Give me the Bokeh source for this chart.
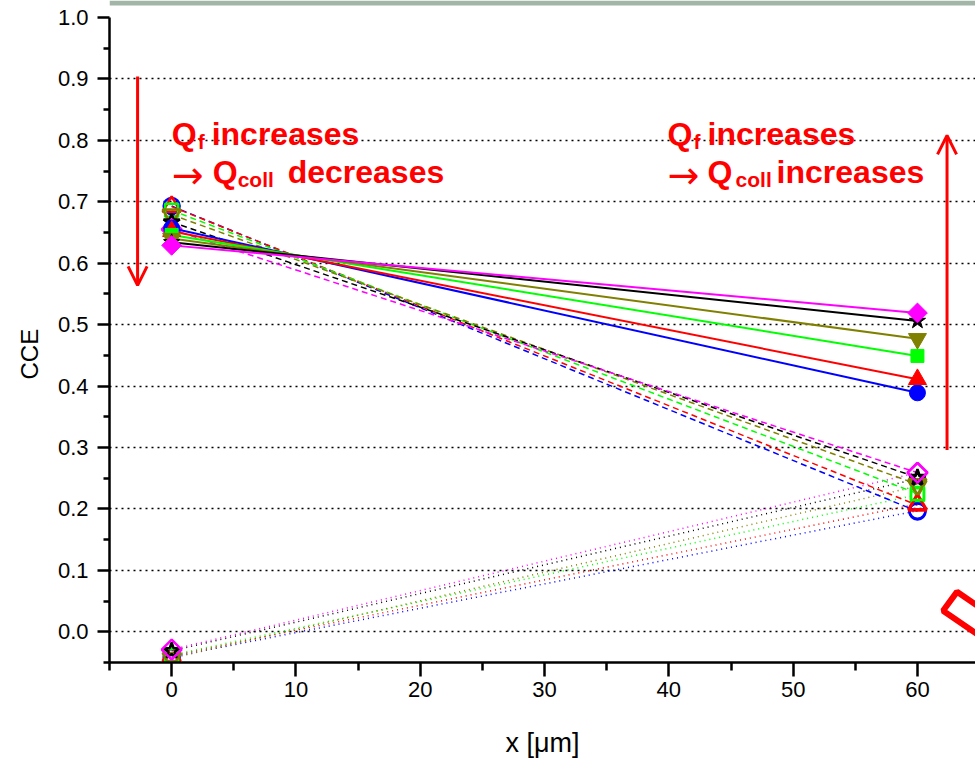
import math

from bokeh.plotting import figure
from bokeh.models import (Range1d, FixedTicker, PrintfTickFormatter, Label,
                          Arrow, OpenHead, BoxAnnotation, Title)
from bokeh.embed import file_html
from bokeh.resources import INLINE

# ---- data -------------------------------------------------------------
x_pos = [0, 60]  # x [um]

series_colors = ["#0000ff", "#ff0000", "#00ff00", "#808000", "#000000", "#ff00ff"]
series_markers = ["circle", "triangle", "square", "inverted_triangle", "star", "diamond"]

# solid lines, filled markers
cce_solid_0 = [0.657, 0.652, 0.646, 0.640, 0.634, 0.629]
cce_solid_60 = [0.389, 0.411, 0.449, 0.477, 0.506, 0.519]

# dashed lines, open markers
cce_dash_0 = [0.693, 0.692, 0.686, 0.679, 0.667, 0.655]
cce_dash_60 = [0.196, 0.206, 0.225, 0.240, 0.251, 0.259]

# dotted lines, open markers
cce_dot_0 = [-0.041, -0.039, -0.038, -0.043, -0.031, -0.029]
cce_dot_60 = [0.197, 0.208, 0.223, 0.237, 0.249, 0.259]

y_major = [0.0, 0.1, 0.2, 0.3, 0.4, 0.5, 0.6, 0.7, 0.8, 0.9, 1.0]
y_minor = [-0.05, 0.05, 0.15, 0.25, 0.35, 0.45, 0.55, 0.65, 0.75, 0.85, 0.95]
y_grid = [0.0, 0.1, 0.2, 0.3, 0.4, 0.5, 0.6, 0.7, 0.8, 0.9]
x_major = [0, 10, 20, 30, 40, 50, 60]
x_minor = [-5, 5, 15, 25, 35, 45, 55]

# annotation geometry (data units)
note_x = [0.0, 39.9]
note_y = [0.8095, 0.7485]
note_verbs = ["decreases", "increases"]
arrow_x = [-2.74, 62.38]
arrow_from = [0.904, 0.296]
arrow_to = [0.564, 0.808]
frame_box_x = [62.06, 63.18, 66.48, 65.35]
frame_box_y = [0.0341, 0.0650, 0.0195, -0.0114]

RED = "#ff0000"
FONT = "Liberation Sans"

# ---- figure -----------------------------------------------------------
p = figure(width=975, height=760, output_backend="svg", toolbar_location=None,
           x_range=Range1d(-5, 64.67), y_range=Range1d(-0.05, 1.0276),
           min_border_left=109, min_border_right=0, min_border_top=0,
           min_border_bottom=97)
p.outline_line_color = None
p.background_fill_color = "white"
p.border_fill_color = "white"

# header strip along the top
p.add_layout(BoxAnnotation(bottom=1.0195, fill_color="#a2b6a7", fill_alpha=1.0,
                           line_color=None, level="underlay"))

# axes
for ax in (p.xaxis[0], p.yaxis[0]):
    ax.axis_line_width = 2.5
    ax.axis_line_color = "black"
    ax.major_tick_line_width = 2.5
    ax.minor_tick_line_width = 2.5
    ax.major_tick_in = 0
    ax.minor_tick_in = 0
    ax.major_label_text_font = FONT
    ax.major_label_text_font_size = "22px"
    ax.major_label_text_color = "black"
    ax.axis_label_text_font = FONT
    ax.axis_label_text_font_style = "normal"
    ax.axis_label_text_color = "black"

p.xaxis.ticker = FixedTicker(ticks=x_major, minor_ticks=x_minor)
p.xaxis.formatter = PrintfTickFormatter(format="%d")
p.xaxis.major_tick_out = 14
p.xaxis.minor_tick_out = 8
p.xaxis.major_label_standoff = 5
p.xaxis.axis_label = "x [\u03bcm]"
p.xaxis.axis_label_text_font_size = "27px"
p.xaxis.axis_label_standoff = 28

p.yaxis.ticker = FixedTicker(ticks=y_major, minor_ticks=y_minor)
p.yaxis.formatter = PrintfTickFormatter(format="%.1f")
p.yaxis.bounds = (-0.05, 1.0)
p.yaxis.major_tick_out = 12
p.yaxis.minor_tick_out = 6
p.yaxis.major_label_standoff = 9

# y title, placed as a side title so it can sit below the frame centre
p.add_layout(Title(text="CCE", align="left", offset=283, standoff=20,
                   vertical_align="top",
                   text_font=FONT, text_font_size="24px", text_font_style="normal",
                   text_color="black"), "left")

p.xgrid.visible = False
p.ygrid.ticker = FixedTicker(ticks=y_grid)
p.ygrid.grid_line_color = "black"
p.ygrid.grid_line_width = 1.5
p.ygrid.grid_line_dash = "2 4"

# ---- series -----------------------------------------------------------
marker_size = {"circle": 16, "triangle": 18, "square": 13,
               "inverted_triangle": 18, "star": 17, "diamond": 14}


def draw_marker(xv, yv, marker, color, filled):
    kind, angle = (("square", math.pi / 4) if marker == "diamond" else (marker, 0.0))
    p.scatter(xv, yv, marker=kind, angle=angle, size=marker_size[marker],
              line_color=color, line_width=1 if filled else 2.5,
              fill_color=color if filled else None)


groups = [
    (cce_dot_0, cce_dot_60, dict(line_width=1.5, line_dash="1 4"), False),
    (cce_dash_0, cce_dash_60, dict(line_width=1.5, line_dash="6 4"), False),
    (cce_solid_0, cce_solid_60, dict(line_width=2, line_dash="solid"), True),
]

for y0s, y60s, style, filled in groups:
    for y0, y60, color in zip(y0s, y60s, series_colors):
        p.line(x_pos, [y0, y60], line_color=color, **style)
    for y0, y60, color, marker in zip(y0s, y60s, series_colors, series_markers):
        draw_marker(x_pos, [y0, y60], marker, color, filled)

# ---- annotations ------------------------------------------------------
def note(x, y, text, dx, size="32px", dy=0, weight="bold", font=FONT):
    p.add_layout(Label(x=x, y=y, text=text, x_offset=dx, y_offset=dy,
                       text_font=font, text_font_size=size,
                       text_font_style=weight, text_color=RED,
                       text_baseline="alphabetic", text_align="left"))


line2_offsets = [(41, 66, 116), (40, 68, 109)]
for nx, verb, (q_dx, sub_dx, verb_dx) in zip(note_x, note_verbs, line2_offsets):
    note(nx, note_y[0], "Q", 0)
    note(nx, note_y[0], "f", 26, size="21px", dy=-7)
    note(nx, note_y[0], "increases", 40)
    note(nx, note_y[1], "\u2192", 0, size="38px", dy=-3, weight="normal",
         font="DejaVu Sans")
    note(nx, note_y[1], "Q", q_dx)
    note(nx, note_y[1], "coll", sub_dx, size="21px", dy=-8)
    note(nx, note_y[1], verb, verb_dx)

for ax_, y_a, y_b in zip(arrow_x, arrow_from, arrow_to):
    p.add_layout(Arrow(x_start=ax_, y_start=y_a, x_end=ax_, y_end=y_b,
                       line_color=RED, line_width=3,
                       end=OpenHead(size=19, line_color=RED, line_width=3)))

# red outline box at the lower right corner
p.patch(frame_box_x, frame_box_y, fill_color=None, line_color=RED, line_width=6)

open("out.html", "w").write(file_html(p, INLINE))
